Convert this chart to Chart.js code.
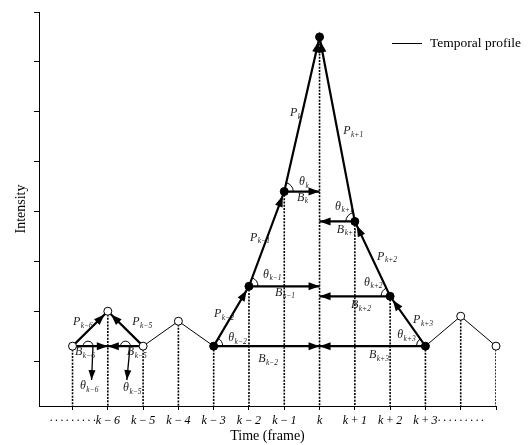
<!DOCTYPE html>
<html lang="en">
<head>
    <meta charset="UTF-8">
    <title>Temporal profile</title>
    <style>
        html, body { margin: 0; padding: 0; background: #fff; }
        #wrap { width: 532px; height: 445px; }
    </style>
</head>
<body>
    <div id="wrap"><canvas id="profileChart"></canvas></div>

    <script src="https://cdn.jsdelivr.net/npm/chart.js"></script>
    <script>
        // frames on the time axis and their labels
        const frames = [0, 1, 2, 3, 4, 5, 6, 7, 8, 9, 10, 11, 12];
        const dots = '·\u2009·\u2009·\u2009·\u2009·\u2009·\u2009·\u2009·\u2009·';
        const frameLabels = [dots, 'k\u2009−\u20096', 'k\u2009−\u20095', 'k\u2009−\u20094', 'k\u2009−\u20093', 'k\u2009−\u20092', 'k\u2009−\u20091', 'k',
            'k\u2009+\u20091', 'k\u2009+\u20092', 'k\u2009+\u20093', dots, ''];
        const intensity = [0.3, 1.0, 0.3, 0.8, 0.3, 1.5, 3.4, 6.5, 2.8, 1.3, 0.3, 0.9, 0.3];
        const solidFrames = [4, 5, 6, 7, 8, 9, 10];
        const intensityTicks = [0, 1, 2, 3, 4, 5, 6, 7];

        // P vectors: from frame -> to frame (along the profile)
        const pVectors = [[0, 1], [2, 1], [4, 5], [5, 6], [6, 7], [10, 9], [9, 8], [8, 7]];
        // B vectors: horizontal from frame -> to frame's time
        const bVectors = [[0, 1], [2, 1], [4, 7], [5, 7], [6, 7], [8, 7], [9, 7], [10, 7]];
        // angle arcs at frames (the two small ones are drawn as loops)
        const angleFrames = [4, 5, 6, 8, 9, 10];
        const thetaLoops = [[0.44, 0.3], [1.50, 0.3]];
        const thetaPointers = [[0.58, 0.3, 0.54, -0.38], [1.63, 0.3, 1.54, -0.38]];

        // annotation text: symbol, subscript, x, y (data units)
        const symbols = [
            ['P', 'k−6', 0.01, 0.78], ['P', 'k−5', 1.69, 0.78],
            ['B', 'k−6', 0.07, 0.18], ['B', 'k−5', 1.54, 0.18],
            ['θ', 'k−6', 0.21, -0.50], ['θ', 'k−5', 1.43, -0.54],
            ['P', 'k−2', 4.01, 0.94], ['θ', 'k−2', 4.41, 0.46], ['B', 'k−2', 5.26, 0.04],
            ['P', 'k−1', 5.03, 2.47], ['θ', 'k−1', 5.40, 1.73], ['B', 'k−1', 5.74, 1.37],
            ['P', 'k', 6.16, 4.97], ['θ', 'k', 6.42, 3.59], ['B', 'k', 6.36, 3.27],
            ['P', 'k+1', 7.67, 4.61], ['θ', 'k+1', 7.44, 3.09], ['B', 'k+1', 7.49, 2.63],
            ['P', 'k+2', 8.63, 2.09], ['θ', 'k+2', 8.26, 1.57], ['B', 'k+2', 7.89, 1.12],
            ['P', 'k+3', 9.65, 0.82], ['θ', 'k+3', 9.20, 0.52], ['B', 'k+3', 8.40, 0.12]
        ];

        const X_MIN = -0.95, Y_MIN = -0.9;
        const SERIF = '"Liberation Serif", "Times New Roman", serif';

        const pt = i => ({ x: frames[i], y: intensity[i] });
        const thickSeg = new Set(pVectors.map(([a, b]) => Math.min(a, b)));

        const drops = [];
        frames.forEach((f, i) => { drops.push({ x: f, y: intensity[i] }, { x: f, y: Y_MIN }, { x: f, y: null }); });
        const bLines = [];
        bVectors.forEach(([a, b]) => { bLines.push({ x: frames[a], y: intensity[a] }, { x: frames[b], y: intensity[a] }, { x: frames[b], y: null }); });
        const pointerLines = [];
        thetaPointers.forEach(([x1, y1, x2, y2]) => { pointerLines.push({ x: x1, y: y1 }, { x: x2, y: y2 }, { x: x2, y: null }); });

        function arrowHead(ctx, x1, y1, x2, y2, len, half, gap) {
            const a = Math.atan2(y2 - y1, x2 - x1);
            const c = Math.cos(a), s = Math.sin(a);
            const tx = x2 - gap * c, ty = y2 - gap * s;
            ctx.beginPath();
            ctx.moveTo(tx, ty);
            ctx.lineTo(tx - len * c + half * s, ty - len * s - half * c);
            ctx.lineTo(tx - len * c - half * s, ty - len * s + half * c);
            ctx.closePath();
            ctx.fill();
        }

        const annotations = {
            id: 'annotations',
            afterDatasetsDraw(chart) {
                const ctx = chart.ctx, xs = chart.scales.x, ys = chart.scales.y;
                const X = v => xs.getPixelForValue(v), Y = v => ys.getPixelForValue(v);
                ctx.save();
                ctx.fillStyle = '#000';
                ctx.strokeStyle = '#000';

                // arrowheads on P and B vectors
                pVectors.forEach(([a, b]) => arrowHead(ctx, X(frames[a]), Y(intensity[a]), X(frames[b]), Y(intensity[b]), 11, 4, 4.5));
                bVectors.forEach(([a, b]) => arrowHead(ctx, X(frames[a]), Y(intensity[a]), X(frames[b]), Y(intensity[a]), 11, 4, 0));
                thetaPointers.forEach(([x1, y1, x2, y2]) => arrowHead(ctx, X(x1), Y(y1), X(x2), Y(y2), 10, 3.5, 0));

                // angle arcs
                ctx.lineWidth = 1;
                angleFrames.forEach(i => {
                    const next = i < 7 ? i + 1 : i - 1;
                    const cx = X(frames[i]), cy = Y(intensity[i]);
                    const ang = Math.atan2(Y(intensity[next]) - cy, X(frames[next]) - cx);
                    ctx.beginPath();
                    if (i < 7) ctx.arc(cx, cy, 9, ang, 0, false);
                    else ctx.arc(cx, cy, 9, Math.PI, ang + 2 * Math.PI, false);
                    ctx.stroke();
                });
                thetaLoops.forEach(([x, y]) => {
                    ctx.beginPath();
                    ctx.arc(X(x), Y(y), 5, Math.PI, 2 * Math.PI, false);
                    ctx.stroke();
                });

                // symbols with subscripts
                ctx.textAlign = 'left';
                ctx.textBaseline = 'middle';
                ctx.fillStyle = '#222';
                symbols.forEach(([main, sub, x, y]) => {
                    ctx.font = 'italic 12px ' + SERIF;
                    ctx.fillText(main, X(x), Y(y));
                    const w = ctx.measureText(main).width;
                    ctx.font = 'italic 7.5px ' + SERIF;
                    ctx.fillText(sub, X(x) + w + 0.5, Y(y) + 3.5);
                });

                // legend
                ctx.fillStyle = '#000';
                ctx.beginPath();
                ctx.moveTo(392, 43.5);
                ctx.lineTo(422, 43.5);
                ctx.stroke();
                ctx.font = '13.5px ' + SERIF;
                ctx.fillText('Temporal profile', 430, 43);
                ctx.restore();
            }
        };

        new Chart(document.getElementById('profileChart').getContext('2d'), {
            type: 'scatter',
            data: {
                datasets: [
                    {
                        label: 'Temporal profile',
                        data: frames.map((f, i) => pt(i)),
                        showLine: true,
                        clip: false,
                        borderColor: '#000',
                        borderWidth: 1,
                        segment: { borderWidth: c => thickSeg.has(c.p0DataIndex) ? 2.2 : 1 },
                        pointRadius: 4,
                        pointBorderWidth: 1,
                        pointBorderColor: '#000',
                        pointBackgroundColor: frames.map(f => solidFrames.includes(f) ? '#000' : '#fff')
                    },
                    { label: 'B', data: bLines, showLine: true, spanGaps: false, borderColor: '#000', borderWidth: 2.2, pointRadius: 0 },
                    { label: 'theta', data: pointerLines, showLine: true, spanGaps: false, borderColor: '#000', borderWidth: 1.3, pointRadius: 0 },
                    { label: 'drops', data: drops, showLine: true, spanGaps: false, borderColor: '#000', borderWidth: 1.6, borderDash: [2, 1.3], pointRadius: 0 }
                ]
            },
            options: {
                responsive: true,
                maintainAspectRatio: false,
                animation: false,
                events: [],
                layout: { padding: { top: 12, right: 36, bottom: 0, left: 0 } },
                plugins: { legend: { display: false }, tooltip: { enabled: false } },
                scales: {
                    x: {
                        type: 'linear', min: X_MIN, max: 12,
                        afterBuildTicks: s => { s.ticks = frames.map(v => ({ value: v })); },
                        afterFit: s => { s.height = 39; },
                        ticks: {
                            autoSkip: false, maxRotation: 0, padding: 4, color: '#000',
                            font: { family: SERIF, size: 12, style: 'italic' },
                            callback: (v, i) => frameLabels[i]
                        },
                        grid: { drawOnChartArea: false, drawTicks: true, tickLength: 4, color: '#000' },
                        border: { color: '#000', width: 1 },
                        title: { display: true, text: 'Time (frame)', color: '#000', font: { family: SERIF, size: 14 }, padding: { top: 0, bottom: 0 } }
                    },
                    y: {
                        type: 'linear', min: Y_MIN, max: 7,
                        afterBuildTicks: s => { s.ticks = intensityTicks.map(v => ({ value: v })); },
                        afterFit: s => { s.width = 39; },
                        ticks: { display: false },
                        grid: { drawOnChartArea: false, drawTicks: true, tickLength: 5, color: '#000' },
                        border: { color: '#000', width: 1 },
                        title: { display: true, text: 'Intensity', color: '#000', font: { family: SERIF, size: 14 }, padding: { top: 13, bottom: 0 } }
                    }
                }
            },
            plugins: [annotations]
        });
    </script>
</body>
</html>
